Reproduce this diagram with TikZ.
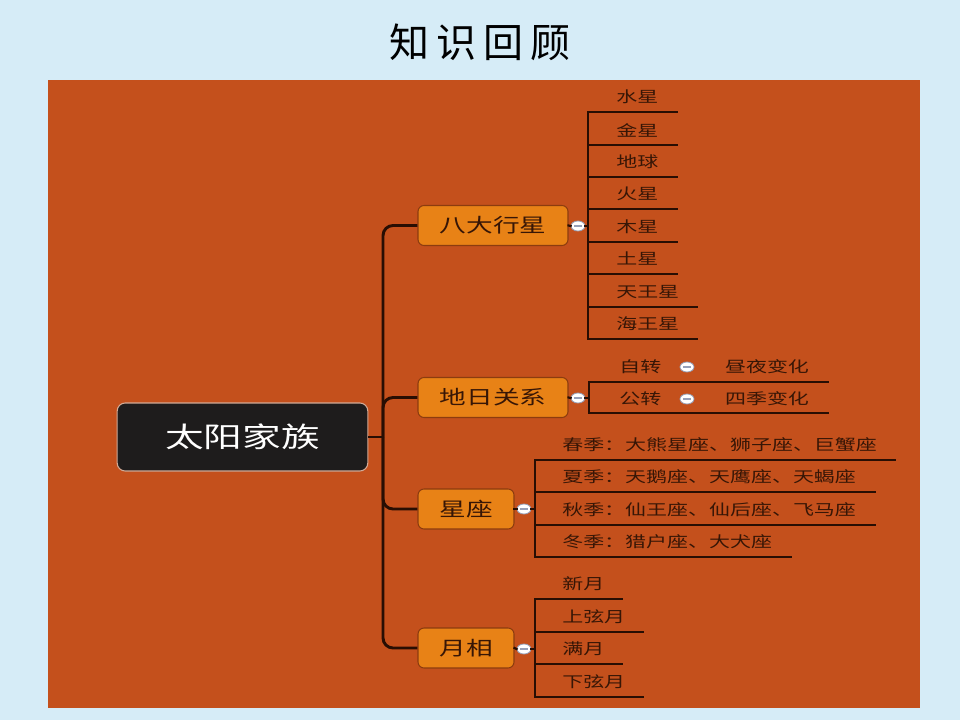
\documentclass[tikz,border=0pt]{standalone}
\usepackage{fontspec}
\newfontfamily\cjk[FakeStretch=1.38]{Noto Sans CJK SC}
\newfontfamily\cjktitle[LetterSpace=17]{Noto Sans CJK SC}
\usetikzlibrary{shapes.geometric}
\definecolor{bgblue}{RGB}{214,236,247}
\definecolor{panel}{RGB}{196,80,28}
\definecolor{boxfill}{RGB}{232,130,22}
\definecolor{boxline}{RGB}{140,60,15}
\definecolor{ink}{RGB}{40,14,3}
\definecolor{txt}{RGB}{55,22,6}
\definecolor{mainfill}{RGB}{30,28,28}
\definecolor{mainline}{RGB}{210,170,150}
\definecolor{markline}{RGB}{150,160,185}
\begin{document}
\begin{tikzpicture}[x=0.75pt,y=-0.75pt,
  mainbox/.style={draw=mainline,fill=mainfill,line width=0.8pt,rounded corners=6pt,
    minimum width=188pt,minimum height=51pt,text=white,inner sep=0pt,
    font=\cjk\fontsize{21pt}{21pt}\selectfont},
  branchbox/.style={draw=boxline,fill=boxfill,line width=0.8pt,rounded corners=4.5pt,
    minimum height=30pt,text=txt,inner sep=0pt,
    font=\cjk\fontsize{14.5pt}{14.5pt}\selectfont},
  leaf/.style={anchor=west,inner sep=0pt,text=txt,
    font=\cjk\fontsize{11.4pt}{11.4pt}\selectfont},
  leafc/.style={inner sep=0pt,text=txt,
    font=\cjk\fontsize{11.4pt}{11.4pt}\selectfont},
  marker/.style={ellipse,draw=markline,line width=0.6pt,fill=white,
    minimum width=10.5pt,minimum height=7.5pt,inner sep=0pt,
    path picture={\draw[markline,line width=0.8pt]
      ([xshift=-2.8pt]path picture bounding box.center) --
      ([xshift=2.8pt]path picture bounding box.center);}},
  trunk/.style={draw=ink,line width=2.2pt,rounded corners=7.5pt},
  twig/.style={draw=ink,line width=1.6pt,line cap=rect},
]
% background
\fill[bgblue] (0,0) rectangle (960,720);
\fill[panel] (48,80) rectangle (920,708);
\node[font=\cjktitle\fontsize{30pt}{30pt}\selectfont,text=black,inner sep=0pt] (title) at (480,42) {知识回顾};

% main and branch nodes
\node[mainbox] (main) at (242.5,437) {太阳家族};
\node[branchbox,minimum width=112.5pt] (b1) at (493,225.5) {八大行星};
\node[branchbox,minimum width=112.5pt] (b2) at (493,397.5) {地日关系};
\node[branchbox,minimum width=72pt] (b3) at (466,509) {星座};
\node[branchbox,minimum width=72pt] (b4) at (466,648) {月相};

% trunk
\coordinate (hub) at (383,437);
\draw[trunk] (main.east) -- (hub);
\draw[trunk] (hub) |- (b1.west);
\draw[trunk] (hub) |- (b2.west);
\draw[trunk] (hub) |- (b3.west);
\draw[trunk] (hub) |- (b4.west);

% markers
\node[marker] (m1) at (578,226) {};
\node[marker] (m2) at (578,398) {};
\node[marker] (m3) at (524,509) {};
\node[marker] (m4) at (524,649) {};

% branch 1: planets
\coordinate (v1) at (588,226);
\draw[twig] (b1.east) -- (m1.west);
\draw[twig] (m1.east) -- (v1);
\coordinate (v1t) at (588,112);
\coordinate (v1b) at (588,339);
\draw[twig] (v1t) -- (v1b);
\foreach \y/\xe/\t [count=\i] in {112/677/水星,145/677/金星,177/677/地球,209/677/火星,
  242/677/木星,274/677/土星,307/697/天王星,339/697/海王星}{
  \coordinate (u1\i) at (588,\y);
  \coordinate (e1\i) at (\xe,\y);
  \draw[twig] (u1\i) -- (e1\i);
  \node[leaf] (l1\i) at (616,\y-15) {\t};
}

% branch 2: earth-sun
\coordinate (v2) at (589,398);
\draw[twig] (b2.east) -- (m2.west);
\draw[twig] (m2.east) -- (v2);
\coordinate (v2t) at (589,382);
\coordinate (v2b) at (589,413);
\draw[twig] (v2t) -- (v2b);
\coordinate (e21) at (828,382);
\coordinate (e22) at (828,413);
\draw[twig] (v2t) -- (e21);
\draw[twig] (v2b) -- (e22);
\node[leaf] (l21) at (619,367) {自转};
\node[marker] (m21) at (687,367) {};
\node[leafc] (r21) at (767,367) {昼夜变化};
\node[leaf] (l22) at (619,399) {公转};
\node[marker] (m22) at (687,399) {};
\node[leafc] (r22) at (767,399) {四季变化};

% branch 3: constellations
\coordinate (v3) at (535,509);
\draw[twig] (b3.east) -- (m3.west);
\draw[twig] (m3.east) -- (v3);
\coordinate (v3t) at (535,460);
\coordinate (v3b) at (535,557);
\draw[twig] (v3t) -- (v3b);
\foreach \y/\xe/\t [count=\i] in {460/895/春季：大熊星座、狮子座、巨蟹座,
  492/875/夏季：天鹅座、天鹰座、天蝎座,525/875/秋季：仙王座、仙后座、飞马座,
  557/791/冬季：猎户座、大犬座}{
  \coordinate (u3\i) at (535,\y);
  \coordinate (e3\i) at (\xe,\y);
  \draw[twig] (u3\i) -- (e3\i);
  \node[leaf] (l3\i) at (562,\y-15) {\t};
}

% branch 4: moon phases
\coordinate (v4) at (535,649);
\draw[twig] (b4.east) -- (m4.west);
\draw[twig] (m4.east) -- (v4);
\coordinate (v4t) at (535,599);
\coordinate (v4b) at (535,697);
\draw[twig] (v4t) -- (v4b);
\foreach \y/\xe/\t [count=\i] in {599/622/新月,632/643/上弦月,664/622/满月,697/643/下弦月}{
  \coordinate (u4\i) at (535,\y);
  \coordinate (e4\i) at (\xe,\y);
  \draw[twig] (u4\i) -- (e4\i);
  \node[leaf] (l4\i) at (562,\y-15) {\t};
}
\end{tikzpicture}
\end{document}
